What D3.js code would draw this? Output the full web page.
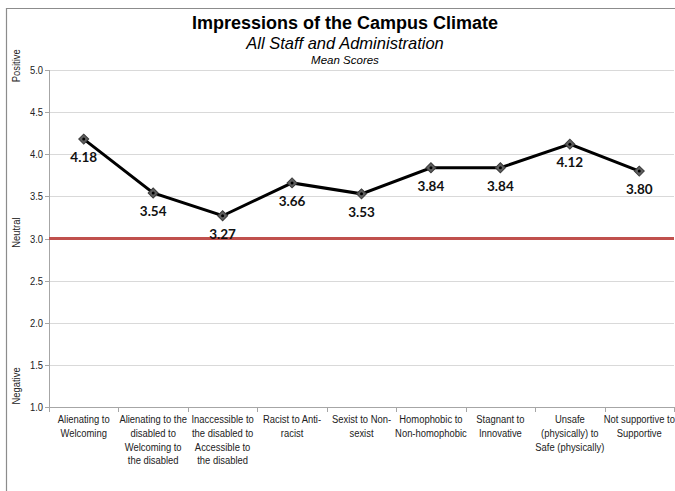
<!DOCTYPE html>
<html><head><meta charset="utf-8">
<script src="https://cdn.jsdelivr.net/npm/d3@7"></script>
<style>
body{margin:0;background:#fff;}
svg{display:block;}
</style></head>
<body>
<script>
const categories = [
  ["Alienating to","Welcoming"],
  ["Alienating to the","disabled to","Welcoming to","the disabled"],
  ["Inaccessible to","the disabled to","Accessible to","the disabled"],
  ["Racist to Anti-","racist"],
  ["Sexist to Non-","sexist"],
  ["Homophobic to","Non-homophobic"],
  ["Stagnant to","Innovative"],
  ["Unsafe","(physically) to","Safe (physically)"],
  ["Not supportive to","Supportive"]
];
const values = [4.18, 3.54, 3.27, 3.66, 3.53, 3.84, 3.84, 4.12, 3.80];
const yTicks = [1.0, 1.5, 2.0, 2.5, 3.0, 3.5, 4.0, 4.5, 5.0];
const neutralValue = 3.0;
const sideLabels = ["Positive", "Neutral", "Negative"];
const title = "Impressions of the Campus Climate";
const subtitle = "All Staff and Administration";
const subsubtitle = "Mean Scores";

const W = 675, H = 491;
const svg = d3.select("body").append("svg").attr("width", W).attr("height", H);
const font = "'Liberation Sans',Arial,sans-serif";
const NX = 0.82; // horizontal condensing to mimic Arial Narrow

// chart border
svg.append("path").attr("d", `M6.5,${H+5} V8.5 H${W+5}`).attr("fill","none").attr("stroke","#8c8c8c").attr("stroke-width",1.2);

const x = d3.scaleBand().domain(d3.range(categories.length)).range([49, 674]);
const y = d3.scaleLinear().domain([1, 5]).range([407, 70]);
const cx = i => x(i) + x.bandwidth() / 2;

// gridlines
svg.append("g").selectAll("line").data(yTicks).join("line")
  .attr("x1", 45).attr("x2", 674)
  .attr("y1", d => Math.round(y(d)) + 0.5).attr("y2", d => Math.round(y(d)) + 0.5)
  .attr("stroke", d => d === 1 ? "#a6a6a6" : "#d9d9d9").attr("stroke-width", 1);

// y axis line
svg.append("line").attr("x1", 49.5).attr("x2", 49.5).attr("y1", y(5)).attr("y2", y(1)).attr("stroke", "#a6a6a6");
svg.append("g").selectAll("line").data(yTicks).join("line")
  .attr("x1", 45).attr("x2", 49.5)
  .attr("y1", d => Math.round(y(d)) + 0.5).attr("y2", d => Math.round(y(d)) + 0.5)
  .attr("stroke", "#a6a6a6");
svg.append("g").selectAll("text").data(yTicks).join("text")
  .attr("transform", d => `translate(43,${y(d)}) scale(${NX},1)`)
  .attr("dy", "0.35em").attr("text-anchor", "end")
  .attr("font-family", font).attr("font-size", 11.5).attr("fill", "#222")
  .text(d3.format(".1f"));

// x axis ticks at category boundaries
const bounds = d3.range(categories.length + 1).map(i => i < categories.length ? x(i) : x.range()[1]);
svg.append("g").selectAll("line").data(bounds).join("line")
  .attr("x1", d => Math.round(d) + 0.5).attr("x2", d => Math.round(d) + 0.5)
  .attr("y1", y(1)).attr("y2", y(1) + 5).attr("stroke", "#a6a6a6");

// x labels
const xl = svg.append("g").selectAll("text").data(categories).join("text")
  .attr("text-anchor", "middle")
  .attr("font-family", font).attr("font-size", 11.5).attr("fill", "#222")
  .attr("transform", (d, i) => `translate(${cx(i)},423) scale(${NX},1)`);
xl.selectAll("tspan").data(d => d).join("tspan")
  .attr("x", 0).attr("y", (d, i) => i * 13.8).text(d => d);

// side labels (Positive near top, Neutral at midline, Negative near bottom)
const sideY = [y(5.05), y(3.07), y(1.25)];
svg.append("g").selectAll("text").data(sideLabels).join("text")
  .attr("transform", (d, i) => `translate(20,${sideY[i]}) rotate(-90) scale(${NX},1)`)
  .attr("text-anchor", "middle").attr("font-family", font).attr("font-size", 11.5).attr("fill", "#222")
  .text(d => d);

// neutral line
svg.append("line").attr("x1", 49).attr("x2", 674).attr("y1", y(neutralValue)).attr("y2", y(neutralValue))
  .attr("stroke", "#c0504d").attr("stroke-width", 3);

// series line
const line = d3.line().x((d, i) => cx(i)).y(d => y(d));
svg.append("path").datum(values).attr("d", line).attr("fill", "none")
  .attr("stroke", "#000").attr("stroke-width", 3).attr("stroke-linejoin", "miter");

// markers
const mk = svg.append("g").selectAll("g").data(values).join("g")
  .attr("transform", (d, i) => `translate(${cx(i)},${y(d)})`);
mk.append("path").attr("d", d3.symbol().type(d3.symbolSquare).size(50)).attr("transform","rotate(45)")
  .attr("fill", "#5f5f5f").attr("stroke", "#3a3a3a").attr("stroke-width", 1);
mk.append("circle").attr("r", 1.5).attr("fill", "#000");

// data labels
svg.append("g").selectAll("text").data(values).join("text")
  .attr("x", (d, i) => cx(i)).attr("y", d => y(d) + 23)
  .attr("text-anchor", "middle").attr("font-family", "Lato,'Open Sans',sans-serif")
  .attr("font-weight", "bold").attr("font-size", 13.5).attr("fill", "#111")
  .text(d => d3.format(".2f")(d));

// titles (centered over the chart area)
const tc = 345;
svg.append("text").attr("x", tc).attr("y", 29).attr("text-anchor", "middle")
  .attr("font-family", font).attr("font-weight", "bold").attr("font-size", 18).attr("fill", "#000").text(title);
svg.append("text").attr("x", tc).attr("y", 48.5).attr("text-anchor", "middle")
  .attr("font-family", font).attr("font-style", "italic").attr("font-size", 16.5).attr("fill", "#000").text(subtitle);
svg.append("text").attr("x", tc).attr("y", 63.5).attr("text-anchor", "middle")
  .attr("font-family", font).attr("font-style", "italic").attr("font-size", 11.5).attr("fill", "#000").text(subsubtitle);
</script>
</body></html>
